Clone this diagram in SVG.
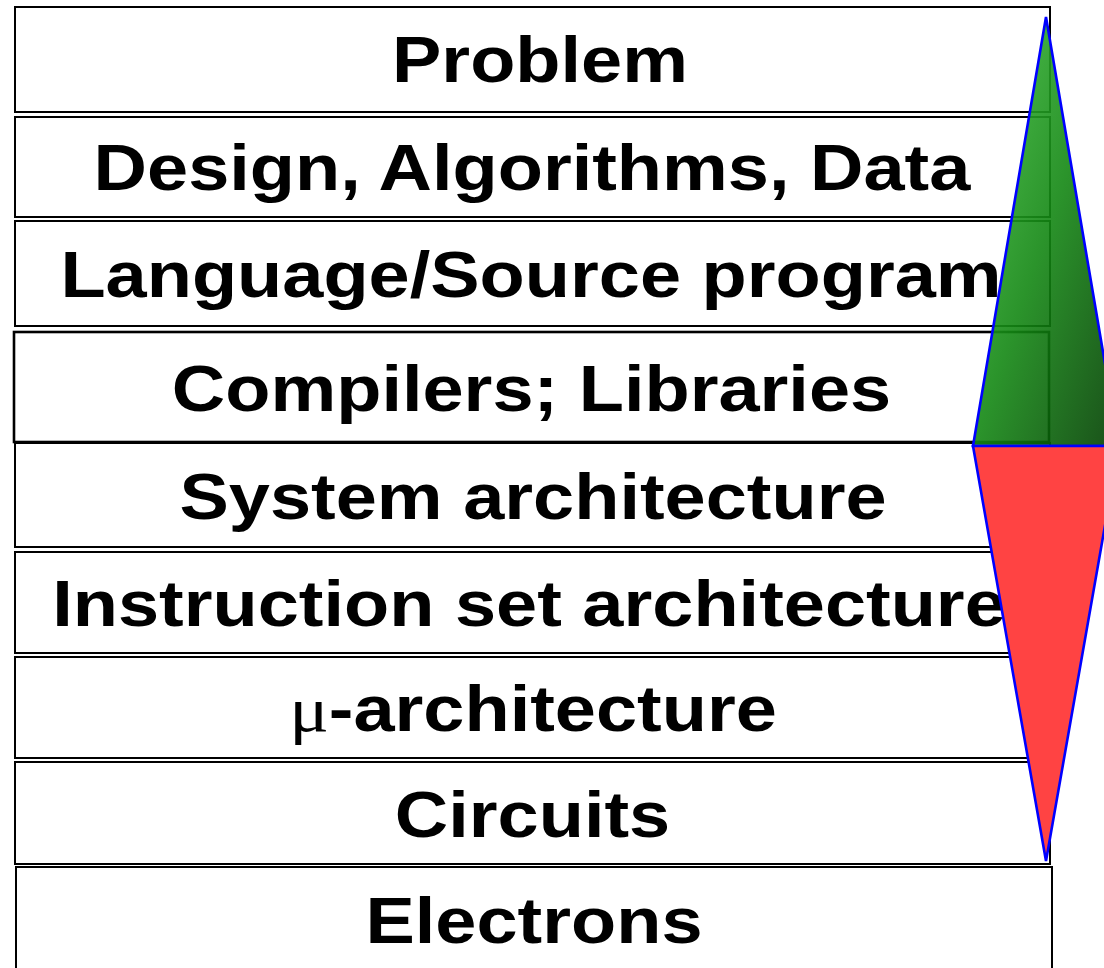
<svg xmlns="http://www.w3.org/2000/svg" width="1104" height="968" viewBox="0 0 1104 968">
<style>
.box{fill:#ffffff;stroke:#000000;stroke-width:2}
.lbl{font-family:"Liberation Sans",Arial,sans-serif;font-weight:bold;font-size:64px;fill:#000000;text-anchor:middle}
.mu{font-family:"Liberation Serif","DejaVu Serif",serif;font-weight:normal}
.tri{stroke:#0000ff;stroke-width:2.6;stroke-linejoin:miter}
</style>
<defs>
<linearGradient id="gr" x1="0" y1="0" x2="1" y2="1">
<stop offset="0" stop-color="#40c040"/>
<stop offset="0.5" stop-color="#148814"/>
<stop offset="1" stop-color="#003c00"/>
</linearGradient>
</defs>
<rect width="1104" height="968" fill="#ffffff"/>
<g id="n1"><rect class="box" x="15" y="7" width="1035" height="105"/><text class="lbl" transform="translate(540,82) scale(1.156,1)">Problem</text></g>
<g id="n2"><rect class="box" x="15" y="117" width="1035" height="100"/><text class="lbl" transform="translate(532,190) scale(1.156,1)">Design, Algorithms, Data</text></g>
<g id="n3"><rect class="box" x="15" y="221" width="1035" height="105"/><text class="lbl" transform="translate(531,297) scale(1.156,1)">Language/Source program</text></g>
<g id="n4"><rect class="box" x="14" y="332" width="1035" height="110" style="stroke-width:2.6"/><text class="lbl" transform="translate(531.5,411) scale(1.156,1)">Compilers; Libraries</text></g>
<g id="n5"><rect class="box" x="15" y="443" width="1035" height="104"/><text class="lbl" transform="translate(533,519) scale(1.156,1)">System architecture</text></g>
<g id="n6"><rect class="box" x="15" y="552" width="1035" height="101"/><text class="lbl" transform="translate(529,626) scale(1.156,1)">Instruction set architecture</text></g>
<g id="n7"><rect class="box" x="15" y="657" width="1035" height="101"/><text class="lbl" transform="translate(533,731) scale(1.156,1)"><tspan class="mu">μ</tspan>-architecture</text></g>
<g id="n8"><rect class="box" x="15" y="762" width="1035" height="102"/><text class="lbl" transform="translate(532.5,837) scale(1.156,1)">Circuits</text></g>
<g id="n9"><rect class="box" x="16" y="867" width="1036" height="110"/><text class="lbl" transform="translate(534,943) scale(1.156,1)">Electrons</text></g>
<g id="connectors">
<polygon class="tri" points="1046,17 973,446 1119,446" fill="url(#gr)" fill-opacity="0.9"/>
<polygon class="tri" points="973,446 1119,446 1046,861" fill="#ff4343"/>
</g>
</svg>
